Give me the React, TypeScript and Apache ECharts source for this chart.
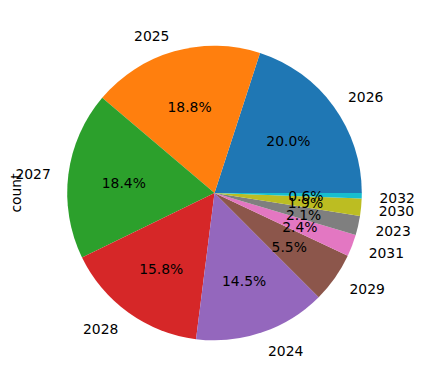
import React, { useEffect, useRef } from "react";
import * as echarts from "echarts";

const categories = ["2026", "2025", "2027", "2028", "2024", "2029", "2031", "2023", "2030", "2032"];
const percents = [20.0, 18.8, 18.4, 15.8, 14.5, 5.5, 2.4, 2.1, 1.9, 0.6];
const colors = ["#1f77b4", "#ff7f0e", "#2ca02c", "#d62728", "#9467bd", "#8c564b", "#e377c2", "#7f7f7f", "#bcbd22", "#17becf"];
const yLabel = "count";

const W = 421;
const H = 389;
const CX = 214.5;
const CY = 193;
const R = 147.3;
const FONT = "DejaVu Sans";
const FS = 13.9;
const DY = 1.5;

export default function App() {
  const ref = useRef<HTMLDivElement>(null);
  useEffect(() => {
    const chart = echarts.init(ref.current!, null, { renderer: "svg" });
    const data = categories.map((c, i) => ({ name: c, value: percents[i] }));
    const base = {
      type: "pie",
      center: [CX, CY],
      startAngle: 0,
      clockwise: false,
      silent: true,
      avoidLabelOverlap: false,
      labelLine: { show: false },
      emphasis: { disabled: true },
    };
    chart.setOption({
      animation: false,
      backgroundColor: "#ffffff",
      graphic: [
        {
          type: "text",
          x: 16,
          y: CY,
          rotation: Math.PI / 2,
          style: {
            text: yLabel,
            fontFamily: FONT,
            fontSize: FS,
            fill: "#000",
            align: "center",
            verticalAlign: "middle",
          },
        },
      ],
      series: [
        {
          ...base,
          radius: [0, R],
          data: data.map((d, i) => ({ ...d, itemStyle: { color: colors[i] } })),
          itemStyle: { borderWidth: 0 },
          label: { show: false },
          z: 1,
        },
        {
          ...base,
          radius: [R * 0.2, R],
          data: data.map((d) => ({ ...d, itemStyle: { color: "rgba(0,0,0,0)" } })),
          itemStyle: { borderWidth: 0 },
          label: {
            show: true,
            position: "inside",
            formatter: (p: any) => `${p.value.toFixed(1)}%`,
            fontFamily: FONT,
            fontSize: FS,
            color: "#000",
          },
          labelLayout: { hideOverlap: false, dy: DY },
          z: 2,
        },
        {
          ...base,
          radius: [R, R * 1.2],
          data: data.map((d) => ({ ...d, itemStyle: { color: "rgba(0,0,0,0)" } })),
          itemStyle: { borderWidth: 0 },
          label: {
            show: true,
            position: "inside",
            formatter: "{b}",
            fontFamily: FONT,
            fontSize: FS,
            color: "#000",
          },
          labelLayout: (p: any) => {
            const mid = p.labelRect.x + p.labelRect.width / 2;
            return { hideOverlap: false, dy: DY, align: mid >= CX ? "left" : "right" };
          },
          z: 2,
        },
      ],
    });
    return () => chart.dispose();
  }, []);
  return (
    <div
      ref={ref}
      style={{ position: "fixed", left: 0, top: 0, width: W, height: H }}
    />
  );
}
